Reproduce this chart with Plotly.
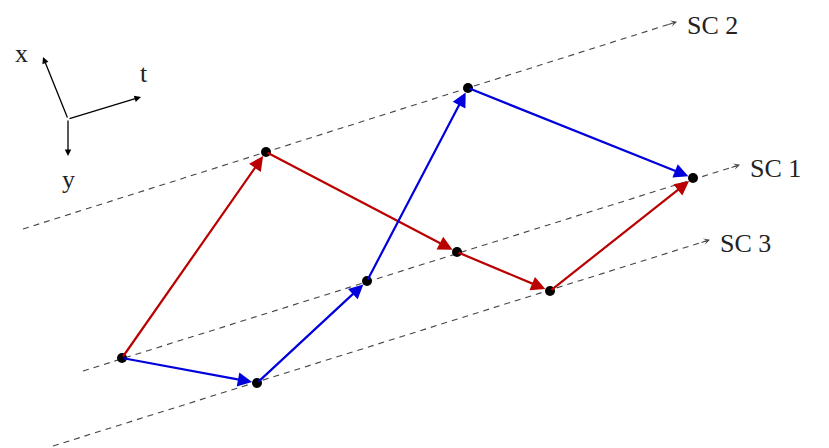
import plotly.graph_objects as go

# node positions (diagram units, y downward)
node_names = ["A", "B", "C", "D", "E", "F", "G", "H"]
node_x = [121, 256, 366, 467, 692, 265, 456, 549]
node_y = [357, 382, 280, 87, 177, 151, 251, 290]
red_path = ["A", "F", "G", "H", "E"]
blue_path = ["A", "B", "C", "D", "E"]

sc_labels = ["SC 2", "SC 1", "SC 3"]
sc_start_x = [22, 82, 52]
sc_start_y = [228, 370, 445]
sc_end_x = [672, 735, 705]
sc_end_y = [22, 165, 240]

axis_labels = ["x", "t", "y"]
axis_end_x = [42, 140, 67]
axis_end_y = [56, 96, 155]
axis_origin = (67, 118)

pos = {n: (x, y) for n, x, y in zip(node_names, node_x, node_y)}
fig = go.Figure()
ann = []
font = dict(family="Liberation Serif", size=26, color="#222")

for lab, x0, y0, x1, y1 in zip(sc_labels, sc_start_x, sc_start_y, sc_end_x, sc_end_y):
    fig.add_trace(go.Scatter(x=[x0, x1], y=[y0, y1], mode="lines",
                             line=dict(color="#444", width=1.1, dash="6px,5px"), hoverinfo="skip"))
    ann.append(dict(x=x1 + 4, y=y1 - 1.3, ax=x1 - 6, ay=y1 + 1.9, xref="x", yref="y", axref="x", ayref="y",
                    showarrow=True, arrowhead=3, arrowsize=1.0, arrowwidth=1.1, arrowcolor="#444", text=""))
    ann.append(dict(x=x1 + 12, y=y1 + 2, xref="x", yref="y", text=lab, showarrow=False,
                    xanchor="left", yanchor="middle", font=font))

for path, col in [(red_path, "#bb0000"), (blue_path, "#0000dd")]:
    for a, b in zip(path[:-1], path[1:]):
        (x0, y0), (x1, y1) = pos[a], pos[b]
        ann.append(dict(x=x1, y=y1, ax=x0, ay=y0, xref="x", yref="y", axref="x", ayref="y",
                        showarrow=True, arrowhead=2, arrowsize=1.3, arrowwidth=2.2, arrowcolor=col,
                        standoff=5, text=""))

ox, oy = axis_origin
for lab, x1, y1 in zip(axis_labels, axis_end_x, axis_end_y):
    ann.append(dict(x=x1, y=y1, ax=ox, ay=oy, xref="x", yref="y", axref="x", ayref="y",
                    showarrow=True, arrowhead=2, arrowsize=1.0, arrowwidth=1.3, arrowcolor="#000", text=""))
lab_pos = {"x": (20, 52), "t": (143, 72), "y": (67, 178)}
for lab in axis_labels:
    lx, ly = lab_pos[lab]
    ann.append(dict(x=lx, y=ly, xref="x", yref="y", text=lab, showarrow=False, font=font))

fig.add_trace(go.Scatter(x=node_x, y=node_y, mode="markers",
                         marker=dict(color="black", size=10), hoverinfo="skip"))

fig.update_layout(width=829, height=448, margin=dict(l=0, r=0, t=0, b=0),
                  plot_bgcolor="white", paper_bgcolor="white", showlegend=False,
                  xaxis=dict(range=[7, 836], visible=False),
                  yaxis=dict(range=[455, 7], visible=False),
                  annotations=ann)
fig.write_html("out.html")
